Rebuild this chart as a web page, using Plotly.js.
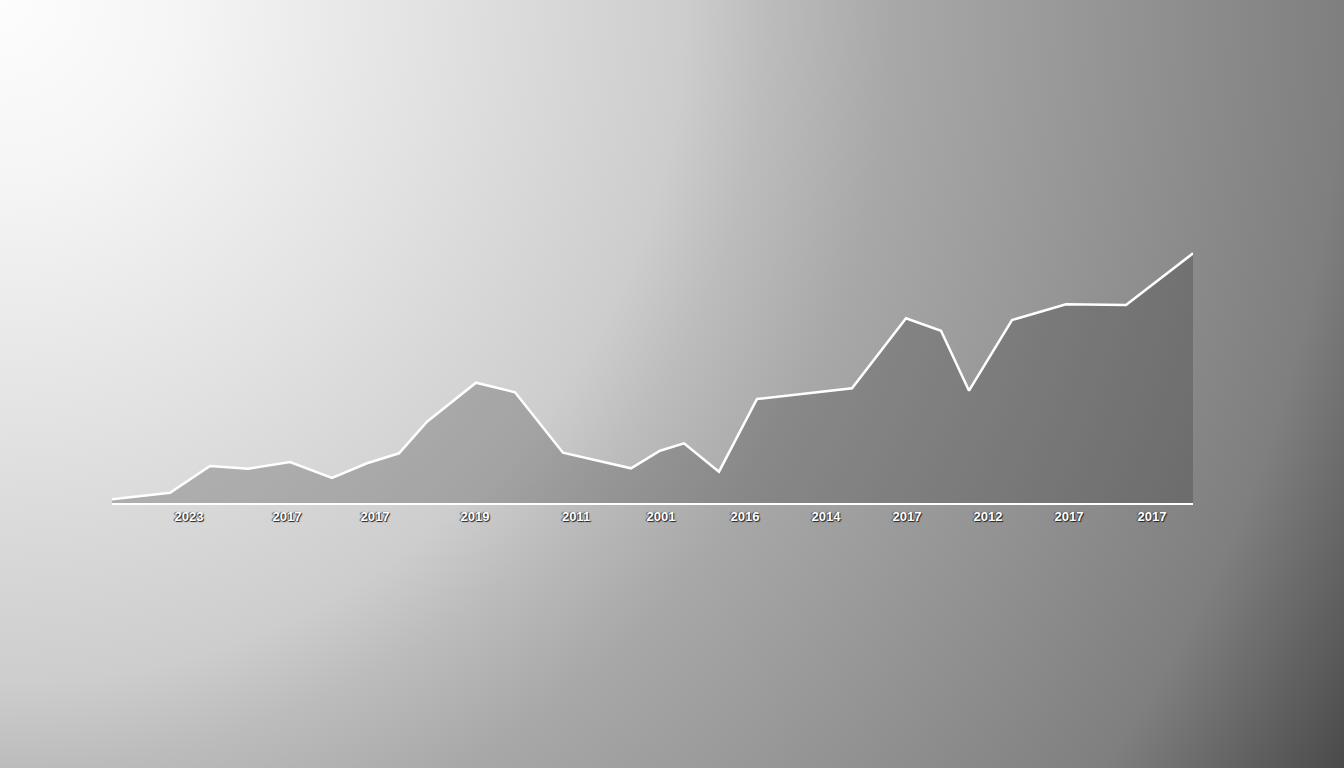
<!DOCTYPE html>
<html>
<head>
<meta charset="utf-8">
<script src="https://cdn.plot.ly/plotly-3.0.1.min.js"></script>
<style>
  html, body { margin: 0; padding: 0; width: 1344px; height: 768px; overflow: hidden; }
  body {
    background: radial-gradient(circle at 0px 0px,
      #fdfdfd 0px, #f5f5f5 180px, #e2e2e2 430px, #cdcdcd 684px,
      #bcbcbc 768px, #a8a8a8 894px, #7f7f7f 1344px, #4a4a4a 1548px);
  }
  #chart { width: 1344px; height: 768px; }
</style>
</head>
<body>
<div id="chart"></div>
<script>
// Series: position along the time axis and value
const xValues = [0, 5.8, 9.8, 13.6, 17.8, 22.0, 25.5, 28.7, 31.5, 36.4, 40.3, 45.1, 51.9, 54.8, 57.2, 60.7, 64.5, 74.0, 79.4, 82.9, 85.7, 90.0, 95.4, 101.4, 108.1];
const yValues = [0.37, 1.03, 3.7, 3.43, 4.1, 2.5, 3.97, 4.97, 8.13, 12.03, 11.07, 5.03, 3.47, 5.23, 5.97, 3.13, 10.4, 11.47, 18.47, 17.23, 11.23, 18.3, 19.87, 19.8, 24.97];

// Tick labels (as printed) and where they sit on the axis
const tickPositions = [7.7, 17.5, 26.3, 36.3, 46.4, 54.9, 63.3, 71.4, 79.5, 87.6, 95.7, 104.0];
const tickLabels = ["2023", "2017", "2017", "2019", "2011", "2001", "2016", "2014", "2017", "2012", "2017", "2017"];

const trace = {
  x: xValues,
  y: yValues,
  type: 'scatter',
  mode: 'lines',
  fill: 'tozeroy',
  fillcolor: 'rgba(40,40,40,0.25)',
  line: { color: '#ffffff', width: 2.5, shape: 'linear' },
  hoverinfo: 'skip'
};

const layout = {
  width: 1344,
  height: 768,
  margin: { l: 112, r: 151, t: 203, b: 265 },
  paper_bgcolor: 'rgba(0,0,0,0)',
  plot_bgcolor: 'rgba(0,0,0,0)',
  showlegend: false,
  xaxis: {
    range: [0, 108.1],
    showgrid: false,
    zeroline: false,
    showline: true,
    linecolor: '#ffffff',
    linewidth: 2,
    ticks: '',
    tickmode: 'array',
    tickvals: tickPositions,
    ticktext: tickLabels,
    tickfont: { family: 'Liberation Sans, Arial, sans-serif', size: 13, color: '#ffffff', weight: 'bold', shadow: '1px 1px 1px #222222, -1px 0px 1px #444444' },
    fixedrange: true
  },
  yaxis: {
    range: [0, 30],
    visible: false,
    showgrid: false,
    zeroline: false,
    fixedrange: true
  }
};

Plotly.newPlot('chart', [trace], layout, { displayModeBar: false, staticPlot: true });
</script>
</body>
</html>
